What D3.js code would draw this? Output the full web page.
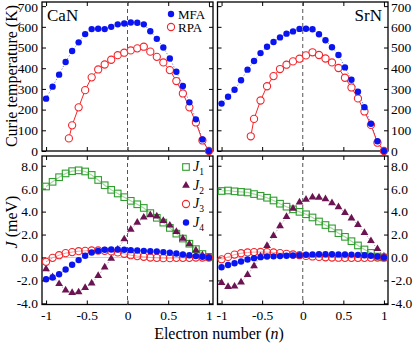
<!DOCTYPE html>
<html><head><meta charset="utf-8">
<script src="https://cdn.jsdelivr.net/npm/d3@7"></script>
<style>
body{margin:0;background:#fff}
svg, svg text{font-family:"Liberation Serif","Times New Roman",Times,"DejaVu Serif",serif}
</style>
</head><body><div id="chart"></div>
<script>
// electron number grid
const nVals = [-1, -0.92, -0.84, -0.76, -0.68, -0.6, -0.52, -0.44, -0.36, -0.28, -0.2, -0.12, -0.04,
               0.04, 0.12, 0.2, 0.28, 0.36, 0.44, 0.52, 0.6, 0.68, 0.76, 0.84, 0.92, 1]

// Curie temperature (K)
const caMfa = [253, 311, 369, 430, 483, 525, 565, 589, 591, 589, 600, 612, 616, 621, 620, 612, 579, 542, 500, 447, 383, 314, 235, 153, 56, 0]
const caRpaN = [-0.72, -0.68, -0.6, -0.52, -0.44, -0.36, -0.28, -0.2, -0.12, -0.04, 0.04, 0.12, 0.2, 0.28, 0.36, 0.44, 0.52, 0.6, 0.68, 0.76, 0.84, 0.92, 1]
const caRpa = [61, 124, 211, 294, 356, 394, 418, 441, 463, 475, 486, 496, 504, 480, 455, 428, 391, 338, 278, 211, 138, 51, 0]
const srMfa = [229, 262, 296, 342, 393, 435, 473, 504, 527, 549, 567, 578, 590, 591, 588, 564, 535, 501, 464, 404, 344, 286, 212, 132, 47, 0]
const srRpaN = [-0.64, -0.6, -0.52, -0.44, -0.36, -0.28, -0.2, -0.12, -0.04, 0.04, 0.12, 0.2, 0.28, 0.36, 0.44, 0.52, 0.6, 0.68, 0.76, 0.84, 0.92, 1]
const srRpa = [71, 155, 244, 313, 362, 396, 417, 433, 446, 462, 477, 464, 447, 428, 401, 354, 307, 254, 191, 126, 40, 0]

// exchange couplings (meV)
const caJ1 = [6.19, 6.6, 7.0, 7.33, 7.53, 7.6, 7.5, 7.2, 6.76, 6.3, 5.9, 5.58, 5.26, 4.94, 4.64, 4.32, 3.87, 3.46, 3.04, 2.58, 2.08, 1.65, 1.2, 0.73, 0.3, 0.05]
const caJ2 = [-1.0, -1.7, -2.3, -2.85, -3.08, -3.02, -2.64, -2.24, -1.6, -0.85, -0.1, 0.7, 1.6, 2.45, 3.05, 3.5, 3.7, 3.6, 3.2, 2.8, 2.25, 1.66, 1.17, 0.64, 0.2, 0.0]
const caJ3 = [-0.38, -0.03, 0.2, 0.38, 0.47, 0.55, 0.58, 0.61, 0.61, 0.58, 0.53, 0.44, 0.32, 0.2, 0.12, 0.06, 0, -0.03, -0.06, -0.06, -0.03, -0.03, -0.03, 0, 0, 0]
const caJ4 = [-1.9, -1.75, -1.46, -1.05, -0.64, -0.23, 0.15, 0.44, 0.58, 0.67, 0.7, 0.7, 0.67, 0.64, 0.61, 0.58, 0.55, 0.53, 0.47, 0.41, 0.35, 0.26, 0.2, 0.12, 0.06, 0]
const srJ1 = [5.8, 5.84, 5.77, 5.72, 5.67, 5.53, 5.38, 5.21, 4.97, 4.69, 4.43, 4.2, 3.98, 3.77, 3.49, 3.14, 2.83, 2.54, 2.12, 1.8, 1.42, 1.05, 0.7, 0.4, 0.08, 0]
const srJ2 = [-2.2, -2.55, -2.52, -2.15, -1.5, -0.75, 0.1, 1.02, 1.9, 2.75, 3.55, 4.27, 4.82, 5.05, 5.25, 5.24, 5.1, 4.75, 4.4, 3.9, 3.42, 2.85, 2.15, 1.45, 0.75, 0.1]
const srJ3 = [-0.16, 0.05, 0.25, 0.37, 0.44, 0.47, 0.48, 0.47, 0.44, 0.38, 0.32, 0.26, 0.2, 0.14, 0.09, 0.05, 0.02, 0, -0.02, -0.03, -0.03, -0.03, -0.03, -0.02, -0.01, 0]
const srJ4 = [-0.85, -0.65, -0.5, -0.35, -0.18, -0.06, 0.03, 0.08, 0.1, 0.12, 0.15, 0.17, 0.2, 0.24, 0.27, 0.28, 0.28, 0.28, 0.27, 0.26, 0.25, 0.23, 0.2, 0.15, 0.08, 0]

const xTicks = [-1, -0.5, 0, 0.5, 1]
const tcTicks = [0, 100, 200, 300, 400, 500, 600, 700]
const jTicks = [-4, -2, 0, 2, 4, 6, 8]

const W = 415, H = 343
const FONT = '"Liberation Serif", "Times New Roman", Times, "DejaVu Serif", serif'
const blue = "#0a14f0", red = "#f2262b", green = "#2f9e2f", purple = "#6c1452"

const svg = d3.select("#chart").append("svg").attr("width", W).attr("height", H)
    .attr("font-family", FONT)

const cols = [
    {x0: 42, x1: 213, name: "CaN", mfa: caMfa, rpaN: caRpaN, rpa: caRpa, J: [caJ1, caJ2, caJ3, caJ4], labels: "left"},
    {x0: 217.5, x1: 388, name: "SrN", mfa: srMfa, rpaN: srRpaN, rpa: srRpa, J: [srJ1, srJ2, srJ3, srJ4], labels: "right"}
]
const rowTop = {y0: 2, y1: 151}
const rowBot = {y0: 156, y1: 304.5}

const line = (xs, ys) => d3.line().x(d => xs(d[0])).y(d => ys(d[1]))
const zip = (a, b) => a.map((v, i) => [v, b[i]])

function frameAxes(g, xs, ys, row, col, yTickVals, yFmt, showX) {
    // ticks point inwards on all four sides
    const la = d3.axisLeft(ys).tickValues(yTickVals).tickSize(-4).tickSizeOuter(0).tickPadding(4)
        .tickFormat(col.labels == "left" ? yFmt : "")
    const ra = d3.axisRight(ys).tickValues(yTickVals).tickSize(-4).tickSizeOuter(0).tickPadding(3)
        .tickFormat(col.labels == "right" ? yFmt : "")
    const ba = d3.axisBottom(xs).tickValues(xTicks).tickSize(-4).tickSizeOuter(0).tickPadding(6)
        .tickFormat(showX ? d => String(d) : "")
    const ta = d3.axisTop(xs).tickValues(xTicks).tickSize(-4).tickSizeOuter(0).tickFormat("")
    const axes = [
        [la, `translate(${col.x0},0)`, true], [ra, `translate(${col.x1},0)`, true],
        [ba, `translate(0,${row.y1})`, false], [ta, `translate(0,${row.y0})`, false]
    ]
    axes.forEach(([a, t, vertical]) => {
        const ag = g.append("g").attr("transform", t).call(a).attr("font-family", FONT)
        ag.select(".domain").remove()
        ag.selectAll("line").attr("stroke", "#000").attr("stroke-width", 1)
        ag.selectAll("text").attr("font-size", "13.5px")
        // keep the topmost label inside the picture
        if (vertical) ag.selectAll("text").attr("dy", d => ys(d) < 10 ? "0.42em" : "0.32em")
    })
    g.append("rect")
        .attr("x", col.x0).attr("y", row.y0)
        .attr("width", col.x1 - col.x0).attr("height", row.y1 - row.y0)
        .attr("fill", "none").attr("stroke", "#000").attr("stroke-width", 1.3)
    // dashed line at n = 0
    g.append("line")
        .attr("x1", xs(0)).attr("x2", xs(0)).attr("y1", row.y0).attr("y2", row.y1)
        .attr("stroke", "#555").attr("stroke-width", 1).attr("stroke-dasharray", "4,3")
}

cols.forEach(col => {
    const xs = d3.scaleLinear().domain([-1.05, 1.05]).range([col.x0, col.x1])
    const yT = d3.scaleLinear().domain([0, 720]).range([rowTop.y1, rowTop.y0])
    const yB = d3.scaleLinear().domain([-4.1, 8.85]).range([rowBot.y1, rowBot.y0])

    // ---- top panel: Curie temperature
    const gt = svg.append("g")
    frameAxes(gt, xs, yT, rowTop, col, tcTicks, d => String(d), false)

    const mfaPts = zip(nVals, col.mfa)
    const rpaPts = zip(col.rpaN, col.rpa)
    gt.append("path").datum(mfaPts).attr("d", line(xs, yT))
        .attr("fill", "none").attr("stroke", "#6a78f5").attr("stroke-width", 1).attr("stroke-dasharray", "1.2,1.8")
    gt.append("path").datum(rpaPts).attr("d", line(xs, yT))
        .attr("fill", "none").attr("stroke", red).attr("stroke-width", 1)
    gt.selectAll(".rpa").data(rpaPts).enter().append("circle")
        .attr("cx", d => xs(d[0])).attr("cy", d => yT(d[1])).attr("r", 3.6)
        .attr("fill", "#fff").attr("stroke", red).attr("stroke-width", 1.1)
    gt.selectAll(".mfa").data(mfaPts).enter().append("circle")
        .attr("cx", d => xs(d[0])).attr("cy", d => yT(d[1])).attr("r", 3.2)
        .attr("fill", blue)

    if (col.labels == "left") {
        gt.append("text").attr("x", 47).attr("y", 21).attr("font-size", "17px").text(col.name)
        // legend
        gt.append("circle").attr("cx", 171).attr("cy", 14).attr("r", 3.2).attr("fill", blue)
        gt.append("text").attr("x", 178).attr("y", 18.5).attr("font-size", "13px").text("MFA")
        gt.append("circle").attr("cx", 171).attr("cy", 27).attr("r", 3.6)
            .attr("fill", "#fff").attr("stroke", red).attr("stroke-width", 1.1)
        gt.append("text").attr("x", 178).attr("y", 31.5).attr("font-size", "13px").text("RPA")
    } else {
        gt.append("text").attr("x", 382).attr("y", 21).attr("font-size", "17px")
            .attr("text-anchor", "end").text(col.name)
    }

    // ---- bottom panel: exchange couplings
    const gb = svg.append("g")
    gb.append("line").attr("x1", col.x0).attr("x2", col.x1).attr("y1", yB(0)).attr("y2", yB(0))
        .attr("stroke", "#cfcfcf").attr("stroke-width", 1)
    frameAxes(gb, xs, yB, rowBot, col, jTicks, d => d.toFixed(1), true)

    const [j1, j2, j3, j4] = col.J.map(arr => zip(nVals, arr))
    gb.append("path").datum(j1).attr("d", line(xs, yB))
        .attr("fill", "none").attr("stroke", "#a6d9a0").attr("stroke-width", 1.2)
    gb.append("path").datum(j2).attr("d", line(xs, yB))
        .attr("fill", "none").attr("stroke", "#b28aa6").attr("stroke-width", 1).attr("stroke-dasharray", "1.2,1.8")
    gb.append("path").datum(j3).attr("d", line(xs, yB))
        .attr("fill", "none").attr("stroke", "#f7a0a0").attr("stroke-width", 1)
    gb.append("path").datum(j4).attr("d", line(xs, yB))
        .attr("fill", "none").attr("stroke", "#8890f5").attr("stroke-width", 1).attr("stroke-dasharray", "1.2,1.8")

    gb.selectAll(".j1").data(j1).enter().append("rect")
        .attr("x", d => xs(d[0]) - 3.3).attr("y", d => yB(d[1]) - 3.3)
        .attr("width", 6.6).attr("height", 6.6)
        .attr("fill", "none").attr("stroke", green).attr("stroke-width", 1.1)
    const tri = d3.symbol().type(d3.symbolTriangle).size(26)
    gb.selectAll(".j2").data(j2).enter().append("path")
        .attr("d", tri).attr("transform", d => `translate(${xs(d[0])},${yB(d[1])})`)
        .attr("fill", purple)
    gb.selectAll(".j3").data(j3).enter().append("circle")
        .attr("cx", d => xs(d[0])).attr("cy", d => yB(d[1])).attr("r", 3.6)
        .attr("fill", "none").attr("stroke", red).attr("stroke-width", 1.1)
    gb.selectAll(".j4").data(j4).enter().append("circle")
        .attr("cx", d => xs(d[0])).attr("cy", d => yB(d[1])).attr("r", 3.2)
        .attr("fill", blue)

    if (col.labels == "left") {
        const lx = 186, tx = 193
        const ly = [167, 185.5, 204, 222.5]
        gb.append("rect").attr("x", lx - 3.3).attr("y", ly[0] - 3.3).attr("width", 6.6).attr("height", 6.6)
            .attr("fill", "none").attr("stroke", green).attr("stroke-width", 1.1)
        gb.append("path").attr("d", tri).attr("transform", `translate(${lx},${ly[1]})`).attr("fill", purple)
        gb.append("circle").attr("cx", lx).attr("cy", ly[2]).attr("r", 3.6)
            .attr("fill", "none").attr("stroke", red).attr("stroke-width", 1.1)
        gb.append("circle").attr("cx", lx).attr("cy", ly[3]).attr("r", 3.2).attr("fill", blue)
        ly.forEach((yy, i) => {
            const t = gb.append("text").attr("x", tx).attr("y", yy + 4).attr("font-size", "14px")
            t.append("tspan").attr("font-style", "italic").text("J")
            t.append("tspan").attr("dy", 4).attr("font-size", "9.5px").text(String(i + 1))
        })
    }
})

// axis titles
svg.append("text").attr("transform", "translate(17,76) rotate(-90)")
    .attr("text-anchor", "middle").attr("font-size", "16px").text("Curie temperature  (K)")
const jt = svg.append("text").attr("transform", "translate(17,222) rotate(-90)")
    .attr("text-anchor", "middle").attr("font-size", "16px")
jt.append("tspan").attr("font-style", "italic").text("J")
jt.append("tspan").text("  (meV)")
const xt = svg.append("text").attr("x", 219).attr("y", 339)
    .attr("text-anchor", "middle").attr("font-size", "16px")
xt.append("tspan").text("Electron number  (")
xt.append("tspan").attr("font-style", "italic").text("n")
xt.append("tspan").text(")")
</script>
</body></html>
